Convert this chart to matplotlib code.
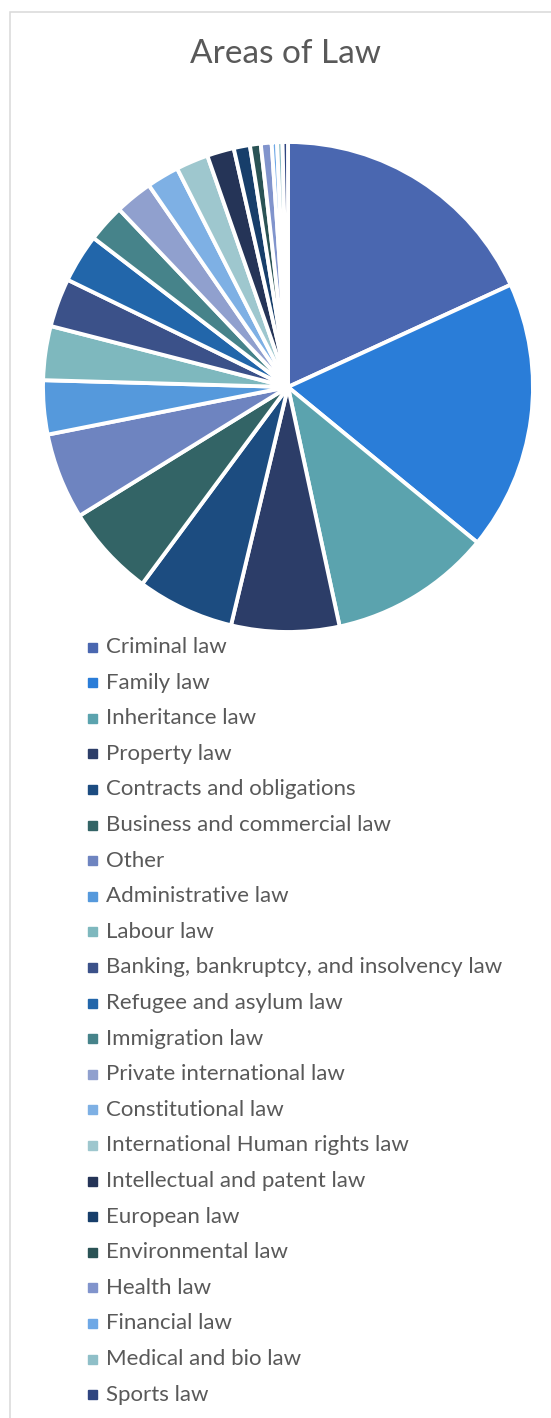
import matplotlib.pyplot as plt
from matplotlib.patches import Rectangle

areas = ['Criminal law', 'Family law', 'Inheritance law', 'Property law',
         'Contracts and obligations', 'Business and commercial law', 'Other',
         'Administrative law', 'Labour law', 'Banking, bankruptcy, and insolvency law',
         'Refugee and asylum law', 'Immigration law', 'Private international law',
         'Constitutional law', 'International Human rights law',
         'Intellectual and patent law', 'European law', 'Environmental law',
         'Health law', 'Financial law', 'Medical and bio law', 'Sports law']
counts = [51, 50, 30, 20, 18, 17, 16, 10, 10, 9, 9, 7, 7, 6, 6, 5, 3, 2, 2, 1, 1, 1]
colors = ['#4A67B0', '#2A7DD8', '#5BA3AE', '#2C3D68', '#1C4C80', '#336466',
          '#6E84C0', '#5599DC', '#7EB8BE', '#3B5189', '#2266AA', '#46838A',
          '#90A0CE', '#7EB0E4', '#9EC7CE', '#253457', '#173E6A', '#2A5355',
          '#8194CC', '#6EA8E6', '#8FBFC8', '#2F4580']

W, H = 551, 1418
fig = plt.figure(figsize=(W / 100, H / 100), dpi=100)
plt.rcParams['font.family'] = ['Lato', 'DejaVu Sans']
txt = '#595959'

# chart-area border (cut off at right and bottom)
fig.patches.append(Rectangle((9.5 / W, -0.1), 1.2, 1 - 11.5 / H + 0.1,
                             transform=fig.transFigure, fill=False,
                             edgecolor='#D9D9D9', linewidth=1.1))

# pie centre (288, 387) px, radius 245 px
cx, cy, r = 288, 387, 245
ax = fig.add_axes([(cx - r) / W, 1 - (cy + r) / H, 2 * r / W, 2 * r / H])
ax.pie(counts, colors=colors, startangle=90, counterclock=False, radius=1,
       wedgeprops=dict(edgecolor='white', linewidth=2.8))
ax.set_xlim(-1, 1)
ax.set_ylim(-1, 1)
ax.axis('off')

fig.text(286 / W, 1 - 54 / H, 'Areas of Law', ha='center', va='center',
         fontsize=24, color=txt)

# legend
y0, step = 647, 35.6
for i, (name, c) in enumerate(zip(areas, colors)):
    y = y0 + i * step
    fig.patches.append(Rectangle((88 / W, 1 - (y + 4.5) / H), 9 / W, 9 / H,
                                 transform=fig.transFigure, color=c))
    fig.text(106 / W, 1 - y / H, name, ha='left', va='center',
             fontsize=16, color=txt)

fig.savefig('out.png', dpi=100, facecolor='white')
